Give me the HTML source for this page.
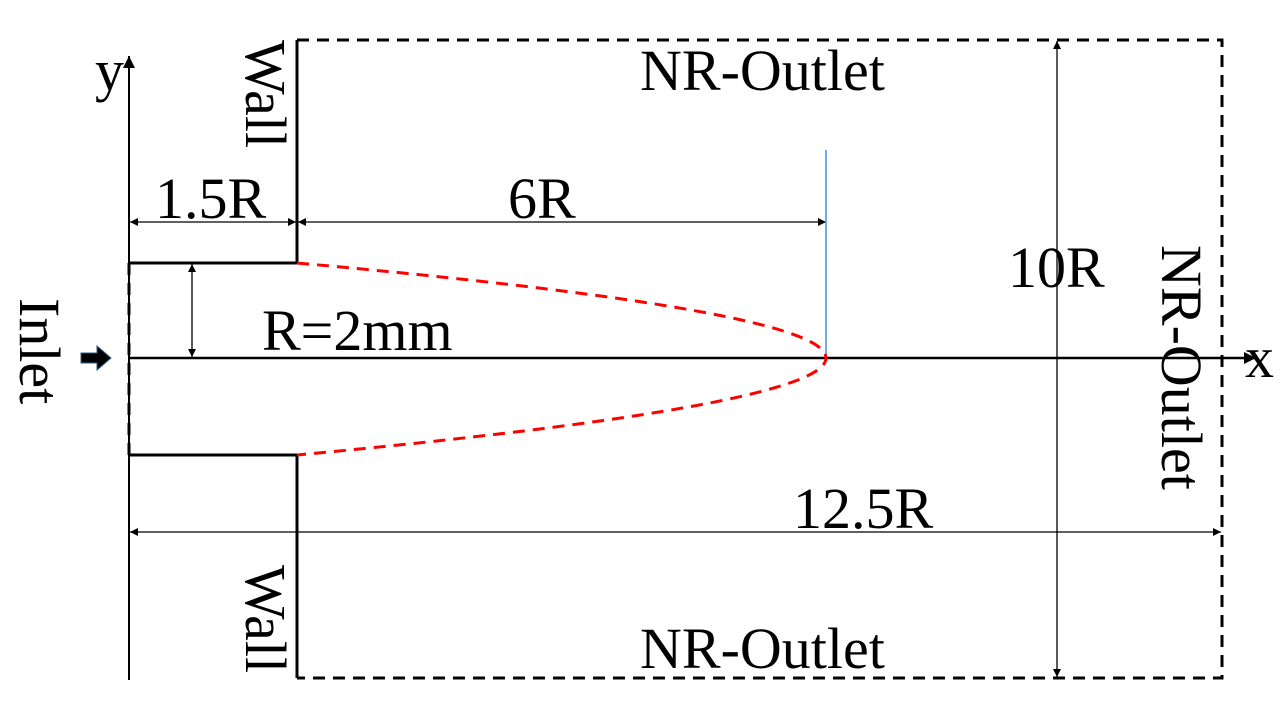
<!DOCTYPE html>
<html><head><meta charset="utf-8"><style>
html,body{margin:0;padding:0;background:#fff}
svg{display:block}
text{font-family:"Liberation Serif",serif;font-size:58px;fill:#000}
</style></head><body>
<svg width="1280" height="720" viewBox="0 0 1280 720" xmlns="http://www.w3.org/2000/svg">
<defs>
<marker id="a" viewBox="0 0 10 10" refX="10" refY="5" markerWidth="8" markerHeight="8" markerUnits="userSpaceOnUse" orient="auto-start-reverse"><path d="M0,0L10,5L0,10z" fill="#000"/></marker>
<marker id="b" viewBox="0 0 10 10" refX="10" refY="5" markerWidth="12" markerHeight="12" markerUnits="userSpaceOnUse" orient="auto"><path d="M0,0L10,5L0,10z" fill="#000"/></marker>
</defs>
<line x1="129" y1="680" x2="129" y2="56" stroke="#000" stroke-width="2" marker-end="url(#b)"/>
<line x1="129" y1="358" x2="1256" y2="358" stroke="#000" stroke-width="2.5" marker-end="url(#b)"/>
<path d="M129,263H297V40" fill="none" stroke="#000" stroke-width="3"/>
<path d="M129,455H297V678" fill="none" stroke="#000" stroke-width="3"/>
<line x1="129" y1="263" x2="129" y2="455" stroke="#000" stroke-width="3" stroke-dasharray="12,8"/>
<path d="M297,40H1222V678H297" fill="none" stroke="#000" stroke-width="3" stroke-dasharray="12,8"/>
<line x1="130" y1="222" x2="296" y2="222" stroke="#000" stroke-width="1.3" marker-start="url(#a)" marker-end="url(#a)"/>
<line x1="298" y1="222" x2="826" y2="222" stroke="#000" stroke-width="1.3" marker-start="url(#a)" marker-end="url(#a)"/>
<line x1="192" y1="264" x2="192" y2="357" stroke="#000" stroke-width="1.3" marker-start="url(#a)" marker-end="url(#a)"/>
<line x1="130" y1="532" x2="1221" y2="532" stroke="#000" stroke-width="1.3" marker-start="url(#a)" marker-end="url(#a)"/>
<line x1="1057" y1="41" x2="1057" y2="677" stroke="#000" stroke-width="1.3" marker-start="url(#a)" marker-end="url(#a)"/>
<line x1="826" y1="150" x2="826" y2="358" stroke="#4a90d9" stroke-width="1.5"/>
<path d="M297,263Q826,310.5 826,358Q826,405.5 297,455" fill="none" stroke="#f00" stroke-width="3" stroke-dasharray="12,8"/>
<path d="M81,353H97V346L111,358L97,370V363H81z" fill="#000" stroke="#2e5c8a" stroke-width="1"/>
<text x="95" y="90" font-size="54">y</text>
<text x="1245" y="377" font-size="54">x</text>
<text x="640" y="90">NR-Outlet</text>
<text x="640" y="668">NR-Outlet</text>
<text x="155" y="218">1.5R</text>
<text x="508" y="218">6R</text>
<text x="262" y="350">R=2mm</text>
<text x="1008" y="287">10R</text>
<text x="793" y="528">12.5R</text>
<text transform="translate(246,40) rotate(90)">Wall</text>
<text transform="translate(246,565) rotate(90)">Wall</text>
<text transform="translate(20,298) rotate(90)">Inlet</text>
<text transform="translate(1162,245) rotate(90)">NR-Outlet</text>
</svg>
</body></html>
